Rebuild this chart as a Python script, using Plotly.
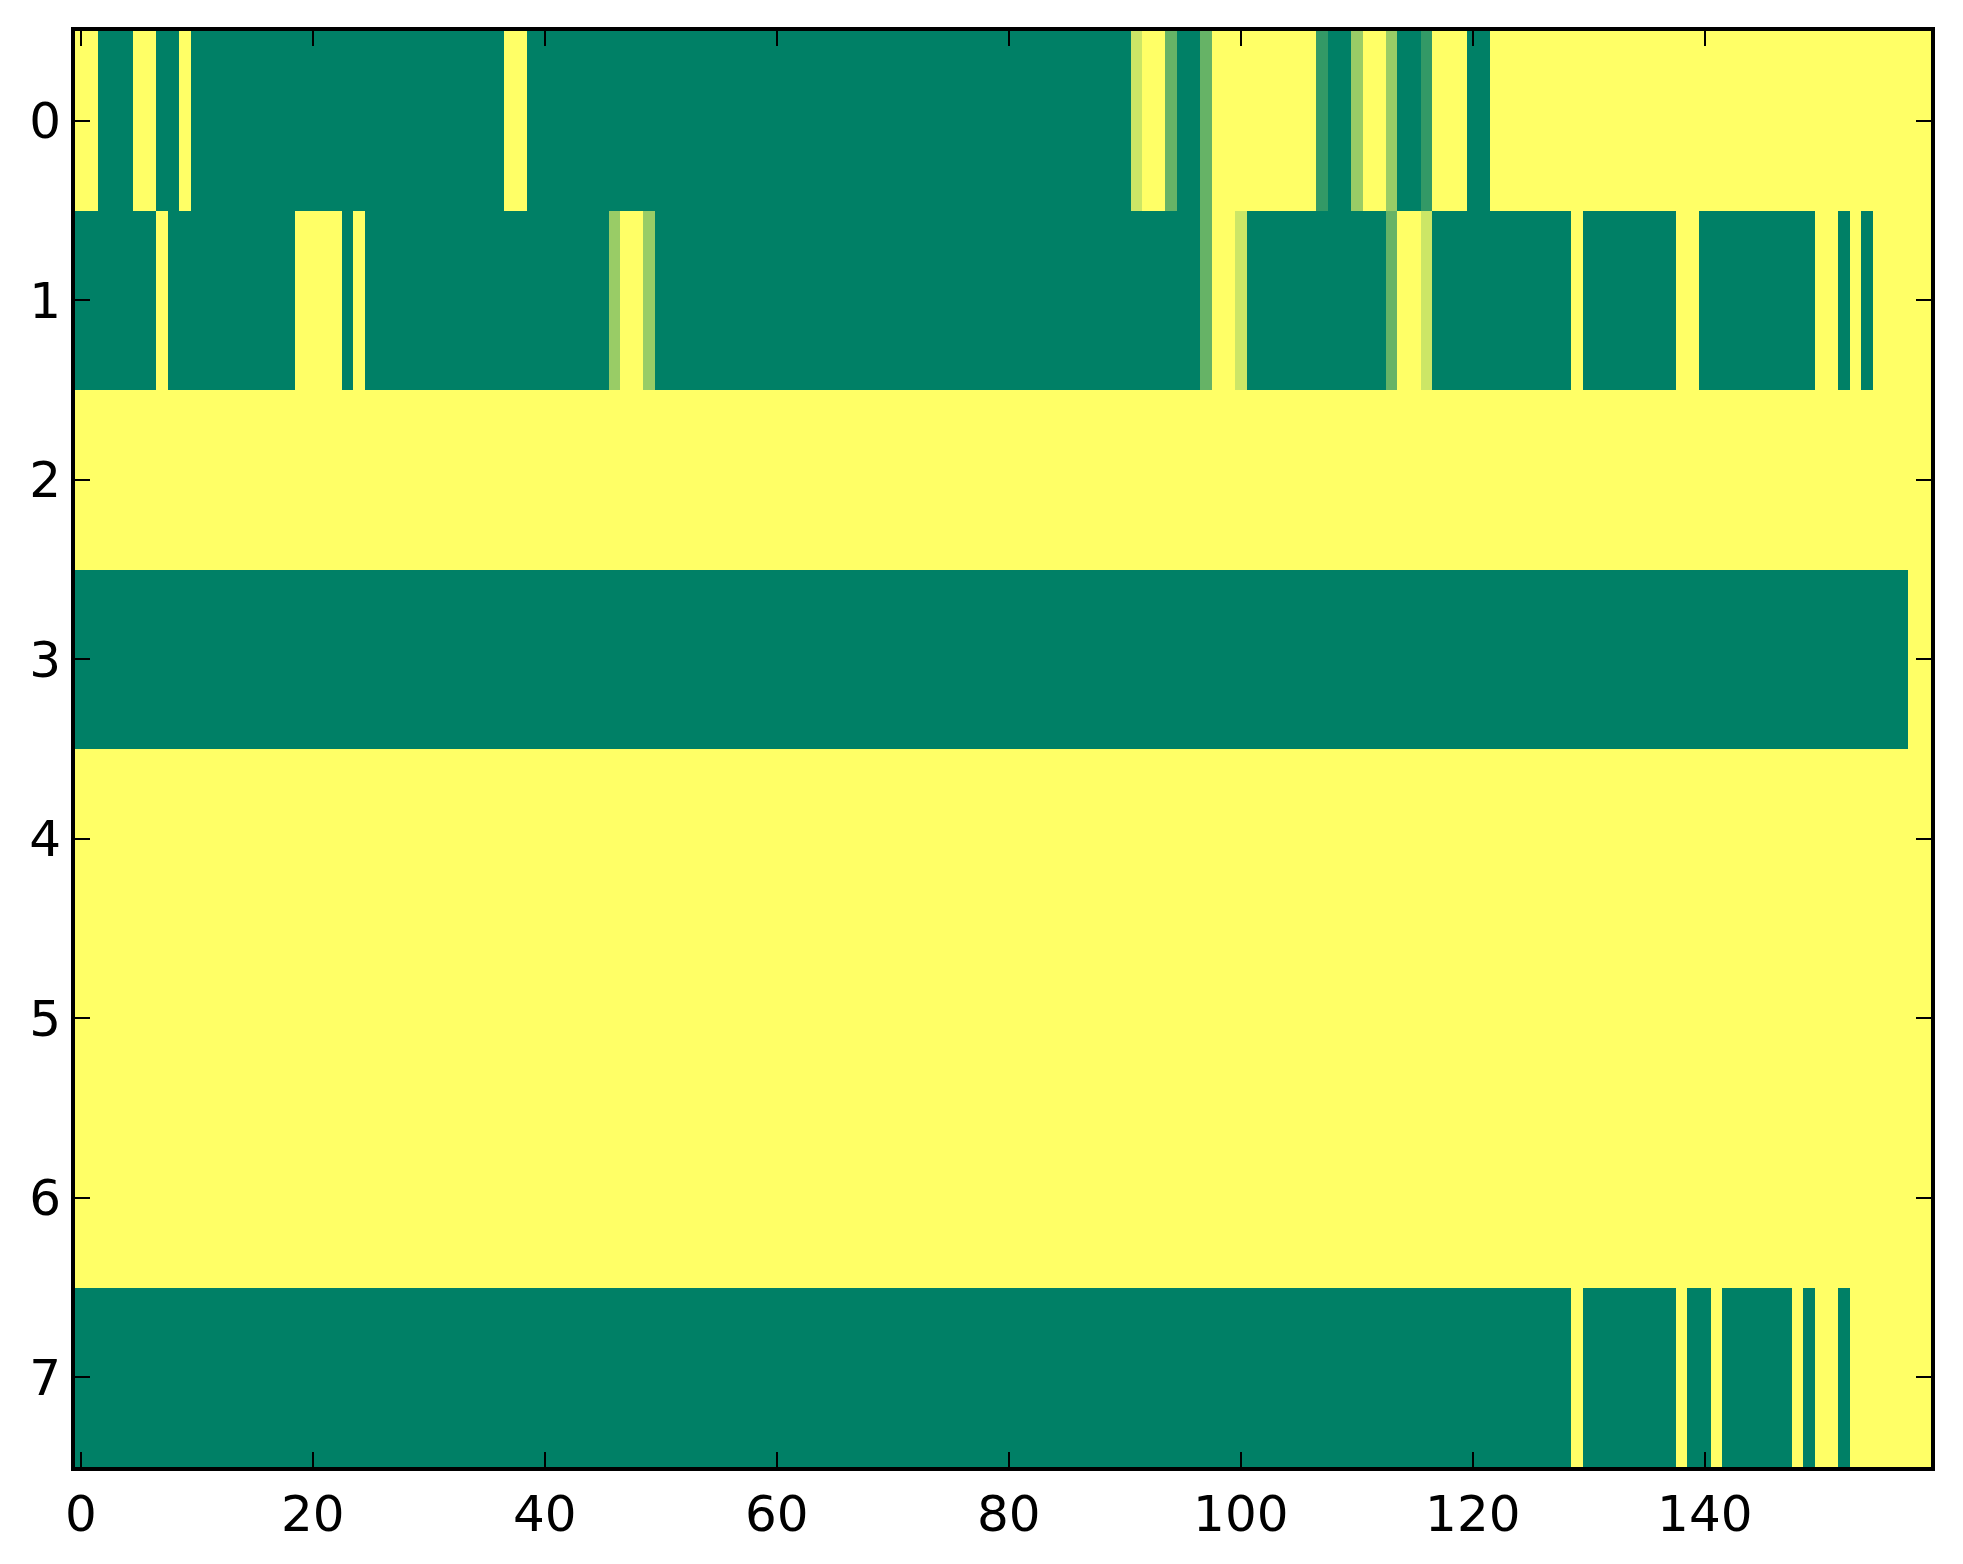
import plotly.graph_objects as go

# Each row is described by runs of (value, run length), left to right.
row_labels = [0, 1, 2, 3, 4, 5, 6, 7]
n_columns = 160

row0_runs = [(1, 2), (0, 3), (1, 2), (0, 2), (1, 1), (0, 27), (1, 2), (0, 52),
             (0.8, 1), (1, 2), (0.4, 1), (0, 2), (0.4, 1), (1, 9), (0.2, 1), (0, 2),
             (0.6, 1), (1, 2), (0.6, 1), (0, 2), (0.2, 1), (1, 3), (0, 2), (1, 38)]
row1_runs = [(0, 7), (1, 1), (0, 11), (1, 4), (0, 1), (1, 1), (0, 21), (0.6, 1),
             (1, 2), (0.6, 1), (0, 47), (0.4, 1), (1, 2), (0.8, 1), (0, 12), (0.4, 1),
             (1, 2), (0.8, 1), (0, 12), (1, 1), (0, 8), (1, 2), (0, 10), (1, 2),
             (0, 1), (1, 1), (0, 1), (1, 5)]
row2_runs = [(1, 160)]
row3_runs = [(0, 158), (1, 2)]
row4_runs = [(1, 160)]
row5_runs = [(1, 160)]
row6_runs = [(1, 160)]
row7_runs = [(0, 129), (1, 1), (0, 8), (1, 1), (0, 2), (1, 1), (0, 6), (1, 1),
             (0, 1), (1, 2), (0, 1), (1, 7)]

x_tick_values = [0, 20, 40, 60, 80, 100, 120, 140]


def expand(runs):
    out = []
    for value, count in runs:
        out.extend([value] * count)
    return out


z = [expand(r) for r in (row0_runs, row1_runs, row2_runs, row3_runs,
                         row4_runs, row5_runs, row6_runs, row7_runs)]
columns = list(range(n_columns))

# matplotlib "summer" colormap (linear in RGB)
summer = [[0.0, "rgb(0,128,102)"], [1.0, "rgb(255,255,102)"]]

fig = go.Figure(go.Heatmap(
    z=z, x=columns, y=row_labels,
    colorscale=summer, zmin=0, zmax=1, showscale=False,
    hoverongaps=False,
))

axis_common = dict(
    showline=True, linecolor="black", linewidth=4, mirror="allticks",
    ticks="inside", ticklen=15, tickwidth=2, tickcolor="black",
    showgrid=False, zeroline=False,
    tickfont=dict(family="DejaVu Sans", size=50, color="black"),
)

# The page body has an 8px default margin, so the figure is slightly smaller
# and the margins are offset to land the plot where the reference has it.
fig.update_layout(
    width=1955, height=1548,
    margin=dict(l=67, r=32, t=23, b=89),
    paper_bgcolor="white", plot_bgcolor="white",
    xaxis=dict(range=[-0.5, n_columns - 0.5], tickmode="array",
               tickvals=x_tick_values, ticktext=[str(v) for v in x_tick_values],
               **axis_common),
    yaxis=dict(range=[7.5, -0.5], tickmode="array", tickvals=row_labels,
               ticktext=[str(v) for v in row_labels], **axis_common),
)

fig.write_html("out.html")
